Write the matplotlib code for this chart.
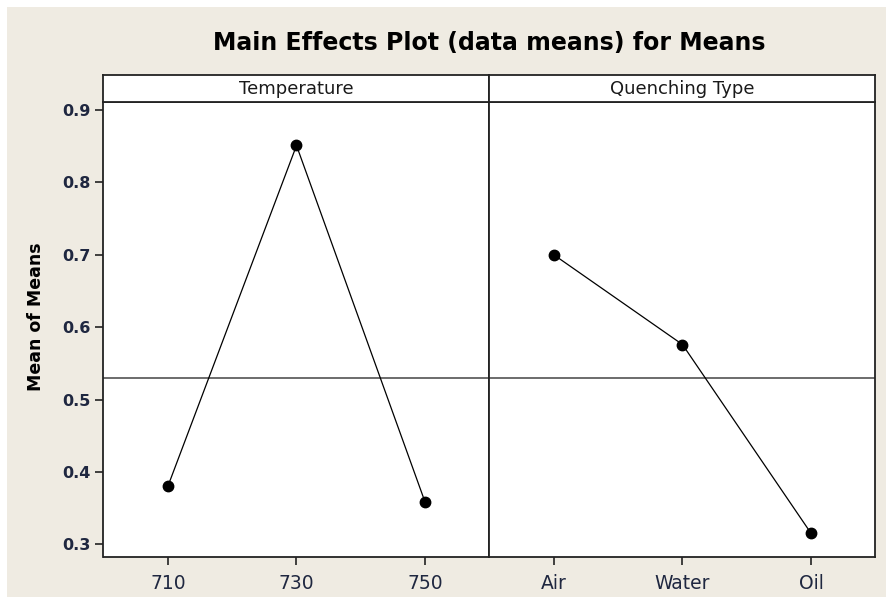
import numpy as np
import matplotlib
matplotlib.use("Agg")
import matplotlib.pyplot as plt
from matplotlib.patches import Rectangle

# Médias
temperature = ['710', '730', '750']
temp_means = [0.380, 0.851, 0.358]

quenching = ['Air', 'Water', 'Oil']
quench_means = [0.700, 0.576, 0.315]

y_ticks = [0.3, 0.4, 0.5, 0.6, 0.7, 0.8, 0.9]
grand_mean = np.mean(temp_means + quench_means)

bg = '#efebe2'
tick_color = '#1f2740'

fig = plt.figure(figsize=(8.87, 5.98), dpi=100, facecolor='white')
fig.patches.append(Rectangle((7 / 887, 1.5 / 598), 1, 1 - 8.5 / 598, transform=fig.transFigure,
                             facecolor=bg, edgecolor='none', zorder=-10))

left1 = 103.5 / 887
width = 386 / 887
bottom = (598 - 557) / 598
height = 455.3 / 598
head_bottom = (598 - 101.7) / 598
head_height = 26.7 / 598

panels = [(temperature, temp_means, 'Temperature'),
          (quenching, quench_means, 'Quenching Type')]

for i, (labels, means, name) in enumerate(panels):
    x0 = left1 + i * width
    ax = fig.add_axes([x0, bottom, width, height])
    ax.set_facecolor('white')
    x = np.arange(len(labels))
    ax.plot(x, means, color='black', lw=0.9, marker='o', markersize=7.5, zorder=3)
    ax.axhline(grand_mean, color='#444444', lw=1.1, zorder=2)
    ax.set_xlim(-0.5, 2.5)
    ax.set_ylim(0.2825, 0.9115)
    ax.set_xticks(x)
    ax.set_xticklabels(labels, fontsize=13.5, color=tick_color)
    ax.tick_params(axis='x', direction='out', length=6, width=1.2, pad=6, color='#222222')
    if i == 0:
        ax.set_yticks(y_ticks)
        ax.set_yticklabels([f'{v:.1f}' for v in y_ticks], fontsize=11.5,
                           fontweight='bold', color=tick_color)
        ax.tick_params(axis='y', direction='out', length=6, width=1.2, pad=3, color='#222222')
    else:
        ax.set_yticks([])
    for s in ax.spines.values():
        s.set_color('#222222')
        s.set_linewidth(1.3)

    hax = fig.add_axes([x0, head_bottom, width, head_height])
    hax.set_facecolor('white')
    hax.set_xticks([])
    hax.set_yticks([])
    for s in hax.spines.values():
        s.set_color('#222222')
        s.set_linewidth(1.3)
    hax.text(0.5, 0.48, name, ha='center', va='center', fontsize=13,
             color='#1a1a1a', transform=hax.transAxes)

fig.text(489.5 / 887, 1 - 43 / 598, 'Main Effects Plot (data means) for Means',
         ha='center', va='center', fontsize=17, fontweight='bold', color='black')
fig.text(36 / 887, 1 - 317 / 598, 'Mean of Means', ha='center', va='center',
         rotation=90, fontsize=12.5, fontweight='bold', color='black')

fig.savefig('out.png', dpi=100, facecolor=fig.get_facecolor())
